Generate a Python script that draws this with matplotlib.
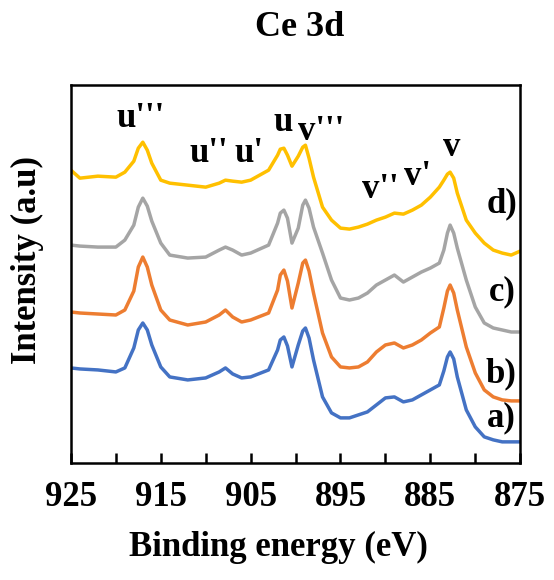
import matplotlib
matplotlib.use('Agg')
import matplotlib.pyplot as plt

# binding energy grid (eV) and intensities (arb. units)
energy = [925, 924, 922, 920, 919, 918, 917.5, 917, 916.5, 916, 915, 914, 912, 910,
          908.5, 907.8, 907, 906, 905, 903, 902, 901.7, 901.3, 900.9, 900.4, 899.7,
          899.2, 898.9, 898.5, 898, 897, 896, 895, 894, 893, 892, 891, 890, 889, 888,
          887, 886, 885, 884, 883.5, 883.1, 882.8, 882.4, 882, 881, 880, 879, 878,
          877, 876, 875]

int_a = [95, 94, 93, 91, 95, 115, 133, 140, 133, 118, 96, 86, 83, 85,
         91, 95, 89, 85, 86, 93, 113, 123, 126, 117, 96, 118,
         132, 135, 125, 103, 66, 50, 45, 45, 48, 51, 58, 65, 66, 61,
         63, 68, 73, 78, 92, 106, 111, 104, 86, 53, 36, 26, 23,
         21, 21, 21]
int_b = [151, 150, 149, 148, 153, 172, 196, 206, 196, 178, 153, 143, 138, 141,
         148, 153, 146, 141, 143, 150, 173, 188, 193, 182, 155, 180,
         200, 203, 192, 170, 130, 106, 96, 95, 96, 101, 111, 118, 120, 115,
         118, 123, 130, 136, 155, 172, 178, 170, 153, 116, 90, 73, 66,
         63, 62, 62]
int_c = [218, 217, 216, 216, 223, 238, 256, 265, 257, 242, 220, 208, 205, 206,
         213, 216, 213, 208, 210, 218, 240, 250, 253, 245, 220, 235,
         258, 263, 255, 236, 210, 183, 165, 163, 165, 170, 178, 183, 188, 181,
         186, 191, 195, 200, 213, 230, 238, 230, 215, 183, 156, 140, 135,
         133, 131, 131]
int_d = [293, 285, 287, 286, 291, 302, 315, 321, 313, 300, 283, 280, 278, 276,
         280, 283, 282, 281, 283, 293, 308, 314, 315, 308, 297, 307,
         316, 318, 305, 286, 256, 243, 235, 234, 236, 239, 243, 246, 250, 249,
         253, 258, 266, 276, 283, 289, 291, 285, 270, 243, 230, 220, 213,
         210, 208, 212]

series = [("a)", int_a, "#4472C4"), ("b)", int_b, "#ED7D31"),
          ("c)", int_c, "#A5A5A5"), ("d)", int_d, "#FFC000")]

# peak labels: (text, energy, intensity)
peaks = [("u'''", 917.3, 345), ("u''", 909.7, 310), ("u'", 905.2, 310),
         ("u", 901.4, 341), ("v'''", 897.2, 332), ("v''", 890.6, 274),
         ("v'", 886.4, 287), ("v", 882.6, 316)]
# curve tags: (text, energy, intensity)
tags = [("d)", 877.0, 259), ("c)", 877.0, 171), ("b)", 877.1, 89), ("a)", 877.1, 45)]

plt.rcParams['font.family'] = 'Liberation Serif'
plt.rcParams['font.weight'] = 'bold'

fig = plt.figure(figsize=(5.54, 5.80), dpi=100)
ax = fig.add_axes([0.128, 0.202, 0.811, 0.651])

for name, vals, color in series:
    ax.plot(energy, vals, color=color, lw=2.5)

for txt, e, y in peaks + tags:
    ax.text(e, y, txt, fontsize=25, fontweight='bold', ha='center', va='center')

ax.set_xlim(925, 875)
ax.set_ylim(0, 378)
ax.set_yticks([])
xt = list(range(925, 874, -5))
ax.set_xticks(xt)
ax.set_xticklabels([str(v) if (925 - v) % 10 == 0 else "" for v in xt])
ax.tick_params(axis='x', direction='in', length=7, width=1.8, labelsize=25, pad=13)
for s in ax.spines.values():
    s.set_linewidth(1.8)

ax.set_xlabel("Binding energy (eV)", fontsize=25, fontweight='bold')
ax.xaxis.set_label_coords(0.463, -0.18)
ax.set_ylabel("Intensity (a.u)", fontsize=25, fontweight='bold')
ax.yaxis.set_label_coords(-0.06, 0.537)
fig.text(0.54, 0.952, "Ce 3d", fontsize=26, fontweight='bold', ha='center', va='center')

fig.savefig("out.png", dpi=100)
